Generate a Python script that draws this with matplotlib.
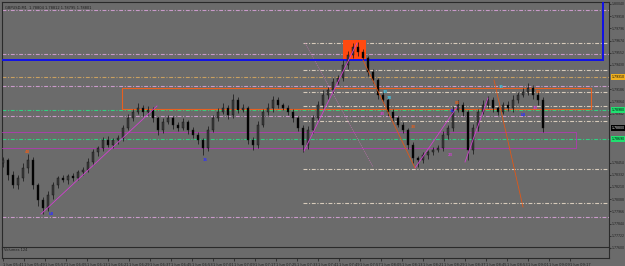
import matplotlib
matplotlib.use("Agg")
import matplotlib.pyplot as plt
from matplotlib.patches import Rectangle

# ---------------- data ----------------
title_text = "GBPUSD,M1  1.78804 1.78812 1.78795 1.78801"
first_open = 1.7845
closes = [
    1.7848, 1.7833, 1.7823, 1.7830, 1.7840, 1.7848, 1.7823, 1.7808, 1.7800, 1.7813,
    1.7823, 1.7830, 1.7828, 1.7832, 1.7830, 1.7836, 1.7838, 1.7846, 1.7856, 1.7860,
    1.7868, 1.7863, 1.7868, 1.7870, 1.7880, 1.7890, 1.7896, 1.7900, 1.7896, 1.7898,
    1.7890, 1.7878, 1.7886, 1.7890, 1.7883, 1.7880, 1.7886, 1.7878, 1.7873, 1.7868,
    1.7860, 1.7878, 1.7890, 1.7896, 1.7900, 1.7893, 1.7908, 1.7898, 1.7900, 1.7868,
    1.7863, 1.7883, 1.7896, 1.7900, 1.7908, 1.7903, 1.7900, 1.7896, 1.7890, 1.7880,
    1.7863, 1.7878, 1.7890, 1.7903, 1.7913, 1.7918, 1.7926, 1.7930, 1.7943, 1.7953,
    1.7961, 1.7956, 1.7950, 1.7936, 1.7928, 1.7913, 1.7908, 1.7896, 1.7890, 1.7883,
    1.7878, 1.7863, 1.7850, 1.7848, 1.7853, 1.7856, 1.7858, 1.7860, 1.7873, 1.7880,
    1.7898, 1.7903, 1.7896, 1.7858, 1.7880, 1.7896, 1.7903, 1.7908, 1.7900, 1.7896,
    1.7903, 1.7900, 1.7908, 1.7913, 1.7916, 1.7920, 1.7913, 1.7908, 1.7880,
]
wick_up = [
    3, 2, 4, 3, 5, 6, 3, 2, 3, 4,
    3, 2, 3, 2, 3, 2, 3, 4, 3, 2,
    3, 4, 2, 3, 3, 4, 3, 5, 3, 4,
    3, 2, 4, 3, 2, 3, 4, 2, 3, 3,
    2, 4, 3, 4, 5, 3, 6, 3, 4, 2,
    3, 4, 3, 5, 4, 3, 2, 3, 3, 2,
    3, 4, 3, 4, 5, 3, 4, 3, 5, 4,
    4, 5, 3, 2, 3, 2, 3, 2, 3, 2,
    3, 2, 3, 2, 3, 2, 3, 3, 4, 3,
    4, 5, 3, 2, 4, 3, 5, 4, 3, 2,
    3, 4, 5, 3, 4, 5, 3, 4, 3,
]
wick_dn = [
    4, 5, 3, 4, 3, 5, 4, 6, 6, 3,
    4, 3, 2, 4, 3, 2, 3, 2, 3, 4,
    3, 2, 3, 4, 3, 2, 3, 2, 4, 3,
    4, 5, 3, 2, 4, 3, 2, 4, 3, 4,
    7, 3, 2, 3, 2, 4, 3, 3, 2, 4,
    5, 3, 2, 3, 4, 3, 2, 3, 4, 3,
    7, 4, 3, 2, 3, 4, 3, 2, 3, 4,
    3, 4, 3, 4, 3, 4, 3, 4, 3, 2,
    3, 4, 5, 7, 3, 4, 3, 2, 3, 4,
    3, 2, 4, 10, 4, 3, 2, 3, 4, 3,
    2, 3, 4, 3, 2, 3, 4, 5, 4,
]
pip = 0.0001

pink_levels = [1.7998, 1.7954, 1.7922, 1.7892, 1.7791]
tan_levels = [1.7931]
green_levels = [1.7898, 1.7869]
white_levels = [1.7965, 1.7938, 1.7916, 1.7902, 1.7887, 1.7839, 1.7805]
white_start = 60

blue_box = [-1.0, 120.0, 1.7948, 1.8015]      # x0, x1, low, high
orange_box = [23.8, 117.6, 1.7899, 1.7920]
magenta_box = [-1.0, 114.6, 1.7860, 1.7876]
red_box = [68.0, 72.6, 1.7948, 1.7968]

# trend segments: x0, p0, x1, p1
magenta_segs = [
    [7.6, 1.7794, 30.8, 1.7902],
    [60.2, 1.7857, 70.8, 1.7965],
    [82.4, 1.7840, 90.8, 1.7901],
    [92.4, 1.7846, 97.0, 1.7910],
]
faint_segs = [[60.4, 1.7965, 74.0, 1.7841]]
orange_segs = [
    [72.0, 1.7948, 82.4, 1.7840],
    [98.2, 1.7928, 104.0, 1.7801],
]

mark_texts = ["48", "LB", "15", "33", "38", "33", "33", "83", "31", "23", "15", "83", "33", "LB"]
mark_x = [4.8, 9.6, 40.4, 76.4, 77.2, 75.8, 82.0, 90.8, 89.8, 89.4, 99.6, 107.0, 106.4, 104.0]
mark_p = [1.7856, 1.7794, 1.7848, 1.7916, 1.7910, 1.7894, 1.7881, 1.7905, 1.7897, 1.7853,
          1.7921, 1.7916, 1.7900, 1.7893]
mark_colors = ["#e06020", "#3030ff", "#3030ff", "#40c8e8", "#40c8e8", "#d040d0", "#e06020",
               "#e06020", "#3030ff", "#d040d0", "#40c8e8", "#e06020", "#d040d0", "#3030ff"]

price_ticks = [1.80040, 1.79918, 1.79796, 1.79674, 1.79552, 1.79430, 1.79186,
               1.79064, 1.78942, 1.78454, 1.78332, 1.78210,
               1.78088, 1.77966, 1.77844, 1.77722, 1.77600]
highlight_prices = [1.7931, 1.7898, 1.7869, 1.7880]
highlight_bg = ["#f0b020", "#20e070", "#20e070", "#000000"]
highlight_fg = ["#000000", "#000000", "#000000", "#ffffff"]

time_labels = ["1 Jun 05:41", "1 Jun 05:49", "1 Jun 05:57", "1 Jun 06:05", "1 Jun 06:13",
               "1 Jun 06:21", "1 Jun 06:29", "1 Jun 06:37", "1 Jun 06:45", "1 Jun 06:53",
               "1 Jun 07:01", "1 Jun 07:09", "1 Jun 07:17", "1 Jun 07:25", "1 Jun 07:33",
               "1 Jun 07:41", "1 Jun 07:49", "1 Jun 07:57", "1 Jun 08:05", "1 Jun 08:13",
               "1 Jun 08:21", "1 Jun 08:29", "1 Jun 08:37", "1 Jun 08:45", "1 Jun 08:53",
               "1 Jun 09:01", "1 Jun 09:09", "1 Jun 09:17"]

# ---------------- style ----------------
BG = "#6b6b6b"
DARK = "#1e1e1e"
DASHDOT = (0, (3.5, 1.5, 1.0, 1.5))
W, H = 625, 266
FS = 2.6
FS_AX = 2.25

fig = plt.figure(figsize=(W / 100, H / 100), dpi=100, facecolor=BG)
ax = fig.add_axes([2 / W, (H - 249) / H, 607 / W, 247 / H], facecolor=BG)
sub = fig.add_axes([2 / W, (H - 258) / H, 607 / W, 11 / H], facecolor=BG, zorder=5)

XMIN, XMAX = -0.2, 121.2
ax.set_xlim(XMIN, XMAX)
ax.set_ylim(1.7759, 1.8006)

# levels
for p in pink_levels:
    ax.axhline(p, color="#c99ac9", lw=0.8, ls=DASHDOT, zorder=1)
for p in tan_levels:
    ax.axhline(p, color="#c8a060", lw=0.8, ls=DASHDOT, zorder=1)
for p in green_levels:
    ax.axhline(p, color="#30d080", lw=0.8, ls=DASHDOT, zorder=1)
for p in white_levels:
    ax.hlines(p, white_start, XMAX, color="#d8cbbb", lw=0.8, linestyles=[DASHDOT], zorder=1)

def box(b, **kw):
    ax.add_patch(Rectangle((b[0], b[2]), b[1] - b[0], b[3] - b[2], **kw))

box(blue_box, fill=False, edgecolor="#1010e8", lw=1.4, zorder=3)
box(orange_box, fill=False, edgecolor="#e86020", lw=0.8, zorder=3)
box(magenta_box, fill=False, edgecolor="#c030c0", lw=0.5, zorder=3)
box(red_box, facecolor="#ff4a10", edgecolor="none", zorder=2)

for s in magenta_segs:
    ax.plot([s[0], s[2]], [s[1], s[3]], color="#d040d0", lw=0.6, zorder=4)
for s in faint_segs:
    ax.plot([s[0], s[2]], [s[1], s[3]], color="#c070b0", lw=0.5, ls=(0, (1.5, 1.5)), zorder=2)
for s in orange_segs:
    ax.plot([s[0], s[2]], [s[1], s[3]], color="#e05818", lw=0.6, zorder=4)

# candles
opens = [first_open] + closes[:-1]
for i, (o, c, wu, wd) in enumerate(zip(opens, closes, wick_up, wick_dn)):
    hi = max(o, c) + wu * pip
    lo = min(o, c) - wd * pip
    ax.vlines(i, lo, hi, color="#111111", lw=0.5, zorder=3)
    bull = c >= o
    h = abs(c - o) if abs(c - o) > 0.00005 else 0.00006
    ax.bar(i, h, bottom=min(o, c), width=0.5,
           color="#3a3a3a" if bull else "#000000",
           edgecolor="#111111", linewidth=0.3, zorder=3.5)

for t, x, p, col in zip(mark_texts, mark_x, mark_p, mark_colors):
    ax.text(x, p, t, color=col, fontsize=FS, ha="center", va="center", zorder=6,
            fontweight="bold")

ax.text(0.005, 0.985, title_text, transform=ax.transAxes, fontsize=FS, color=DARK,
        ha="left", va="top", zorder=6)

# price axis
ax.yaxis.tick_right()
ax.set_yticks(price_ticks)
ax.set_yticklabels([f"{v:.5f}" for v in price_ticks])
ax.tick_params(axis="y", labelsize=FS_AX, colors=DARK, length=1.2, width=0.5, pad=0.6)
ax.set_xticks([])
for sp in ax.spines.values():
    sp.set_color("#2a2a2a")
    sp.set_linewidth(0.8)

for p, bg, fg in zip(highlight_prices, highlight_bg, highlight_fg):
    ax.text(XMAX + 0.45, p, f"{p:.5f}", transform=ax.transData, fontsize=FS_AX, color=fg,
            ha="left", va="center", clip_on=False, zorder=7,
            bbox=dict(boxstyle="square,pad=0.2", facecolor=bg, edgecolor="none"))

# volume sub-window
sub.set_xlim(XMIN, XMAX)
sub.set_ylim(0, 1)
sub.set_yticks([])
sub.text(0.004, 0.75, "Volumes 124", transform=sub.transAxes, fontsize=FS, color=DARK,
         ha="left", va="center")
tick_pos = [k * 4.2 for k in range(len(time_labels))]
sub.set_xticks(tick_pos)
sub.set_xticklabels(time_labels, ha="left")
sub.tick_params(axis="x", labelsize=FS, colors=DARK, length=2.5, width=0.5, pad=0.8)
for sp in sub.spines.values():
    sp.set_color("#2a2a2a")
    sp.set_linewidth(0.8)

fig.savefig("out.png", dpi=100, facecolor=BG)
